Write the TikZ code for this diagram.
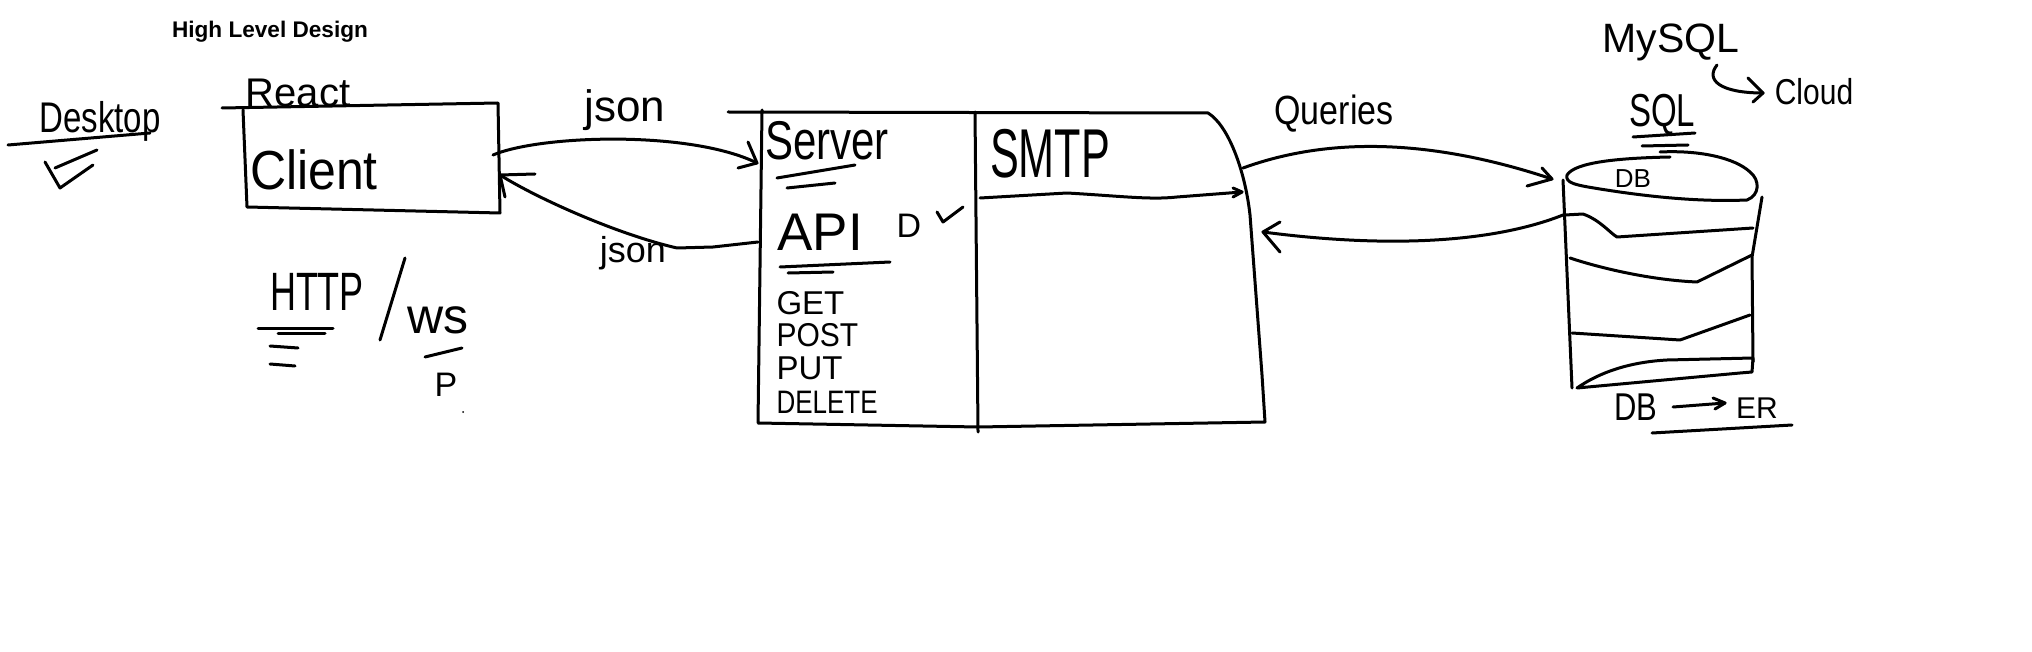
\documentclass[tikz,border=0pt]{standalone}
\usepackage{graphicx}
\usepackage{fontspec}
\setmainfont{Liberation Sans}
\newcommand{\hfs}[1]{\fontsize{#1}{#1}\selectfont}
\newcommand{\vtall}[2]{\scalebox{1}[#1]{#2}}
\begin{document}
\begin{tikzpicture}[x=0.5pt,y=-0.5pt,line width=1.5pt,line cap=round,line join=round,
  lbl/.style={inner sep=0pt,anchor=base},
  ink/.style={draw=black,line width=1.5pt}]
\useasboundingbox (0,0) rectangle (2032,652);
\fill[white] (0,0) rectangle (2032,652);

% title
\node[lbl,font=\bfseries\hfs{11.3pt}] (title) at (270,38) {High Level Design};

% Desktop
\node[lbl,font=\hfs{16.5pt}] (desk) at (100,133) {\vtall{1.3}{Desktop}};
\draw[ink] (8,145) -- (150,133);
\draw[ink] (45,162) -- (60,188) -- (93,165);
\draw[ink] (55,168) -- (97,150);

% Client box
\draw[ink] (222,108) -- (498,103) -- (500,213) -- (247,207) -- (243,110);
\node[lbl,font=\hfs{20pt}] (react) at (298,107) {React};
\node[lbl,font=\hfs{25pt}] (client) at (314,190) {\vtall{1.1}{Client}};
\coordinate (cl1) at (493,155);
\coordinate (cl2) at (500,175);

% HTTP / ws
\node[lbl,font=\hfs{18pt}] (http) at (317,310) {\vtall{1.5}{HTTP}};
\draw[ink] (258,328) -- (333,328);
\draw[ink] (278,333) -- (325,333);
\draw[ink] (270,346) -- (298,348);
\draw[ink] (270,364) -- (295,366);
\draw[ink] (405,258) -- (380,340);
\node[lbl,font=\hfs{25pt}] (ws) at (438,333) {ws};
\draw[ink] (425,357) -- (462,348);
\node[lbl,font=\hfs{17pt}] (pp) at (446,396) {P};
\fill (463,412) circle (1);

% Server box
\draw[ink] (728,112) -- (1208,113) .. controls (1228,125) and (1245,170) .. (1250,215)
  -- (1262,375) -- (1265,422) -- (978,427) -- (758,423) -- (762,110);
\draw[ink] (975,112) -- (978,432);
\coordinate (sv1) at (757,163);
\coordinate (sv2) at (758,242);
\node[lbl,font=\hfs{21pt}] (server) at (827,160) {\vtall{1.3}{Server}};
\draw[ink] (777,178) -- (855,165);
\draw[ink] (787,188) -- (835,183);
\node[lbl,font=\hfs{26.5pt}] (api) at (820,250) {API};
\draw[ink] (780,267) -- (890,262);
\draw[ink] (788,273) -- (833,272);
\node[lbl,font=\hfs{17pt}] (dv) at (909,237) {D};
\draw[ink] (937,212) -- (943,222) -- (963,207);
\node[lbl,anchor=base west,font=\hfs{16.5pt}] (get) at (775,314) {GET};
\node[lbl,anchor=base west,font=\hfs{15pt}] (post) at (775,346) {\vtall{1.1}{POST}};
\node[lbl,anchor=base west,font=\hfs{16.5pt}] (put) at (775,379) {PUT};
\node[lbl,anchor=base west,font=\hfs{13pt}] (del) at (775,413) {\vtall{1.25}{DELETE}};

% SMTP
\node[lbl,font=\hfs{21.6pt}] (smtp) at (1050,177) {\vtall{1.6}{SMTP}};
\coordinate (sm0) at (980,198);
\coordinate (sm3) at (1242,192);
\draw[ink] (sm0) -- (1067,193) .. controls (1120,196) and (1150,200) .. (1177,197) -- (sm3);
\draw[ink] (1233,188) -- (sm3) -- (1233,197);
\coordinate (sm1) at (1243,168);
\coordinate (sm2) at (1263,232);

% json arrows
\draw[ink] (cl1) .. controls (540,135) and (690,130) .. (sv1);
\draw[ink] (738,168) -- (sv1) -- (748,142);
\node[lbl,font=\hfs{22pt}] (json1) at (625,122) {json};
\draw[ink] (sv2) -- (713,247) -- (677,248) .. controls (620,235) and (540,200) .. (cl2);
\draw[ink] (535,174) -- (cl2) -- (505,197);
\node[lbl,font=\hfs{18pt}] (json2) at (633,263) {json};

% Queries arrows
\coordinate (db1) at (1552,179);
\coordinate (db2) at (1563,215);
\draw[ink] (sm1) .. controls (1320,140) and (1420,135) .. (db1);
\draw[ink] (1527,186) -- (db1) -- (1542,168);
\node[lbl,font=\hfs{17pt}] (queries) at (1334,125) {\vtall{1.2}{Queries}};
\draw[ink] (db2) .. controls (1500,240) and (1400,250) .. (sm2);
\draw[ink] (1280,222) -- (sm2) -- (1280,252);

% DB cylinder
\draw[ink] (1670,157) .. controls (1620,158) and (1575,162) .. (1567,175)
  .. controls (1565,183) and (1575,185) .. (1600,189)
  .. controls (1650,197) and (1700,202) .. (1747,200)
  .. controls (1760,195) and (1760,180) .. (1750,172)
  .. controls (1735,158) and (1700,150) .. (1660,152);
\draw[ink] (1563,180) -- (1572,388);
\draw[ink] (1762,197) -- (1752,257) -- (1753,362);
\draw[ink] (1565,215) -- (1583,214) .. controls (1600,220) and (1610,233) .. (1617,237) -- (1753,228);
\draw[ink] (1570,258) .. controls (1600,268) and (1650,280) .. (1697,282) -- (1752,255);
\draw[ink] (1572,333) -- (1680,340) -- (1750,315);
\draw[ink] (1577,388) .. controls (1600,372) and (1630,362) .. (1667,360) -- (1753,358) -- (1752,372) -- (1740,373) -- (1577,388);
\node[lbl,font=\hfs{13pt}] (dbin) at (1633,188) {DB};

% SQL / MySQL / Cloud
\node[lbl,font=\hfs{20.5pt}] (mysql) at (1671,53) {MySQL};
\node[lbl,font=\hfs{16.5pt}] (sql) at (1662,127) {\vtall{1.4}{SQL}};
\draw[ink] (1633,137) -- (1695,133);
\draw[ink] (1642,146) -- (1688,145);
\coordinate (hk0) at (1717,65);
\coordinate (hk1) at (1763,93);
\draw[ink] (hk0) .. controls (1705,80) and (1720,93) .. (hk1);
\draw[ink] (1748,78) -- (hk1) -- (1753,102);
\node[lbl,font=\hfs{15pt}] (cloud) at (1814,105) {\vtall{1.2}{Cloud}};

% DB -> ER
\node[lbl,font=\hfs{15.5pt}] (dbb) at (1636,420) {\vtall{1.25}{DB}};
\node[lbl,font=\hfs{15pt}] (er) at (1757,418) {ER};
\coordinate (ar0) at (1673,407);
\coordinate (ar1) at (1725,403);
\draw[ink] (ar0) -- (ar1);
\draw[ink] (1713,398) -- (ar1) -- (1715,409);
\draw[ink] (1652,433) -- (1792,425);
\end{tikzpicture}
\end{document}
